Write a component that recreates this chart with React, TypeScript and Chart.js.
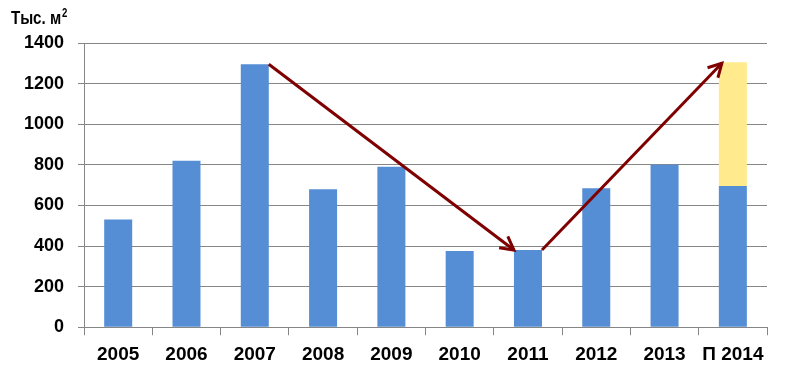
import React, { useEffect, useRef } from "react";
import { Chart, registerables } from "chart.js";

Chart.register(...registerables);

const categories = ["2005", "2006", "2007", "2008", "2009", "2010", "2011", "2012", "2013", "П 2014"];
const actualValues = [530, 820, 1295, 680, 790, 375, 380, 685, 800, 695];
const forecastExtra = [null, null, null, null, null, null, null, null, null, 610];
const yMin = 0;
const yMax = 1400;
const yStep = 200;
const axisTitle = "Тыс. м";
const axisTitleSup = "2";
// arrows: [from category index, to category index]
const arrowPairs = [
  [2, 6],
  [6, 9],
];

const BLUE = "#558ED5";
const YELLOW = "#FFEB8E";
const GRID = "#868686";
const ARROW = "#7E0000";
const FONT = "'Liberation Sans', Arial, sans-serif";

export default function App() {
  const ref = useRef<HTMLCanvasElement | null>(null);

  useEffect(() => {
    document.body.style.margin = "0";
    const canvas = ref.current;
    if (!canvas) return;

    const topOf = (chart: any, i: number) => {
      const m0 = chart.getDatasetMeta(0);
      const m1 = chart.getDatasetMeta(1);
      if (forecastExtra[i] != null) return m1.data[i].y;
      return m0.data[i].y;
    };

    const arrowPlugin = {
      id: "arrows",
      afterDatasetsDraw(chart: any) {
        const ctx = chart.ctx;
        const m0 = chart.getDatasetMeta(0);
        ctx.save();
        ctx.strokeStyle = ARROW;
        ctx.lineWidth = 3;
        ctx.lineCap = "butt";
        ctx.lineJoin = "miter";
        arrowPairs.forEach(([a, b]) => {
          const ba = m0.data[a];
          const bb = m0.data[b];
          const x1 = ba.x + ba.width / 2;
          const y1 = topOf(chart, a);
          const down = topOf(chart, b) > y1;
          const x2 = bb.x - bb.width / 2 + (down ? 0 : 3);
          const y2 = topOf(chart, b) + (down ? 0 : 1);
          ctx.beginPath();
          ctx.moveTo(x1, y1);
          ctx.lineTo(x2, y2);
          ctx.stroke();
          const ang = Math.atan2(y2 - y1, x2 - x1);
          const len = 15;
          const spread = 0.5;
          ctx.beginPath();
          ctx.moveTo(x2 - len * Math.cos(ang - spread), y2 - len * Math.sin(ang - spread));
          ctx.lineTo(x2, y2);
          ctx.lineTo(x2 - len * Math.cos(ang + spread), y2 - len * Math.sin(ang + spread));
          ctx.stroke();
        });
        ctx.restore();
      },
    };

    const titlePlugin = {
      id: "unitTitle",
      afterDraw(chart: any) {
        const ctx = chart.ctx;
        const x = chart.chartArea.left - 73;
        const y = chart.chartArea.top - 19;
        const sx = 0.8;
        ctx.save();
        ctx.translate(x, y);
        ctx.scale(sx, 1);
        ctx.fillStyle = "#000";
        ctx.textBaseline = "alphabetic";
        ctx.textAlign = "left";
        ctx.font = `bold 19px ${FONT}`;
        ctx.fillText(axisTitle, 0, 0);
        const w = ctx.measureText(axisTitle).width;
        ctx.font = `bold 12px ${FONT}`;
        ctx.fillText(axisTitleSup, w + 1, -7);
        ctx.restore();
      },
    };

    const chart = new Chart(canvas, {
      type: "bar",
      data: {
        labels: categories,
        datasets: [
          {
            data: actualValues,
            backgroundColor: BLUE,
            borderWidth: 0,
            barPercentage: 0.41,
            categoryPercentage: 1,
          },
          {
            data: forecastExtra,
            backgroundColor: YELLOW,
            borderWidth: 0,
            barPercentage: 0.41,
            categoryPercentage: 1,
          },
        ],
      },
      options: {
        responsive: false,
        animation: false,
        devicePixelRatio: 1,
        layout: { padding: { top: 43, left: 10, right: 24, bottom: 3 } },
        plugins: {
          legend: { display: false },
          tooltip: { enabled: false },
        },
        scales: {
          x: {
            stacked: true,
            grid: {
              display: true,
              drawOnChartArea: false,
              drawTicks: true,
              tickLength: 8,
              color: GRID,
              offset: true,
            },
            border: { display: true, color: GRID, width: 1 },
            ticks: {
              color: "#000",
              padding: 8,
              font: { family: FONT, size: 19, weight: "bold" },
              maxRotation: 0,
              autoSkip: false,
            },
          },
          y: {
            stacked: true,
            min: yMin,
            max: yMax,
            grid: {
              color: GRID,
              lineWidth: 1,
              drawTicks: true,
              tickLength: 6,
            },
            border: { display: true, color: GRID, width: 1 },
            ticks: {
              stepSize: yStep,
              color: "#000",
              padding: 14,
              font: { family: FONT, size: 18, weight: "bold" },
              callback: (v: any) => String(v),
            },
          },
        },
      },
      plugins: [arrowPlugin, titlePlugin],
    });

    return () => chart.destroy();
  }, []);

  return (
    <div style={{ width: 791, height: 377, position: "relative", background: "#fff" }}>
      <canvas ref={ref} width={791} height={377} style={{ display: "block" }} />
    </div>
  );
}
